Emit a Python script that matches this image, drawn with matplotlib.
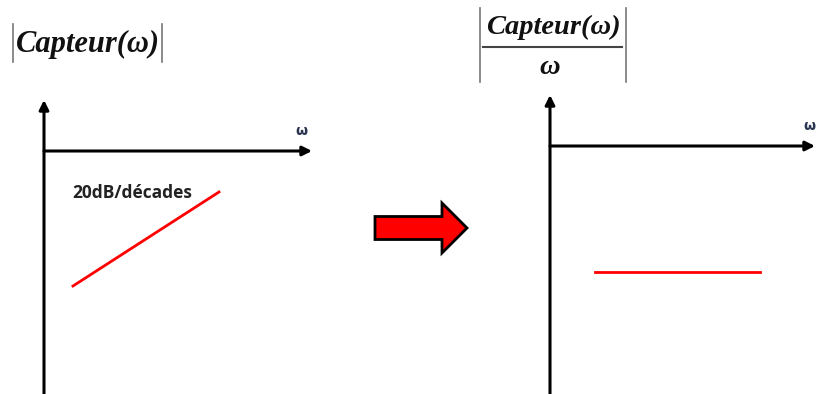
import matplotlib
matplotlib.use("Agg")
import matplotlib.pyplot as plt
import matplotlib.patches as mpatches

# diagram in pixel coordinates (816 x 394)
left_axis_origin = [44, 151]
left_axis_tips = [312, 100]      # x tip, y tip
right_axis_origin = [550, 146]
right_axis_tips = [815, 95]

slope_x = [73, 219]
slope_y = [286, 192]
flat_x = [595, 760]
flat_y = [272, 272]

slope_label = "20dB/décades"
axis_label = "ω"
num_label = "Capteur(ω)"
den_label = "ω"

fig = plt.figure(figsize=(8.16, 3.94), dpi=100)
ax = fig.add_axes([0, 0, 1, 1])
ax.set_xlim(0, 816)
ax.set_ylim(394, 0)
ax.axis("off")

axis_kw = dict(arrowstyle="-|>", lw=2.2, color="black", mutation_scale=14,
               shrinkA=0, shrinkB=0)


def draw_axes(origin, tips):
    ox, oy = origin
    tx, ty = tips
    ax.annotate("", xy=(ox, ty), xytext=(ox, 394), arrowprops=axis_kw)
    ax.annotate("", xy=(tx, oy), xytext=(ox, oy), arrowprops=axis_kw)


draw_axes(left_axis_origin, left_axis_tips)
draw_axes(right_axis_origin, right_axis_tips)

ax.text(301, 131, axis_label, fontsize=10, fontweight="bold", color="#2a3550",
        ha="center", va="center", family="DejaVu Sans")
ax.text(809, 126, axis_label, fontsize=10, fontweight="bold", color="#2a3550",
        ha="center", va="center", family="DejaVu Sans")

ax.plot(slope_x, slope_y, color="red", lw=2)
ax.plot(flat_x, flat_y, color="red", lw=2)

ax.text(72, 193, slope_label, fontsize=12.5, fontweight="bold", color="#222222",
        ha="left", va="center", family="Open Sans")

# big red arrow in the middle
arrow = mpatches.FancyArrow(375, 228, 92, 0, width=23, head_width=50,
                            head_length=25, length_includes_head=True,
                            facecolor="red", edgecolor="black", lw=2)
ax.add_patch(arrow)

# left title |Capteur(w)|
title_kw = dict(fontweight="bold", style="italic",
                family="Liberation Serif", color="#111111", va="center")
ax.text(88, 44, num_label, ha="center", fontsize=22, **title_kw)
ax.plot([13, 13], [24, 62], color="#777777", lw=1.2)
ax.plot([162, 162], [24, 62], color="#777777", lw=1.2)

# right title |Capteur(w) / w|
ax.text(553, 27, num_label, ha="center", fontsize=20.5, **title_kw)
ax.plot([483, 622], [47, 47], color="#444444", lw=1.5)
ax.text(550, 67, den_label, ha="center", fontsize=20.5, **title_kw)
ax.plot([480, 480], [8, 82], color="#777777", lw=1.2)
ax.plot([626, 626], [8, 82], color="#777777", lw=1.2)

fig.savefig("out.png", dpi=100)
